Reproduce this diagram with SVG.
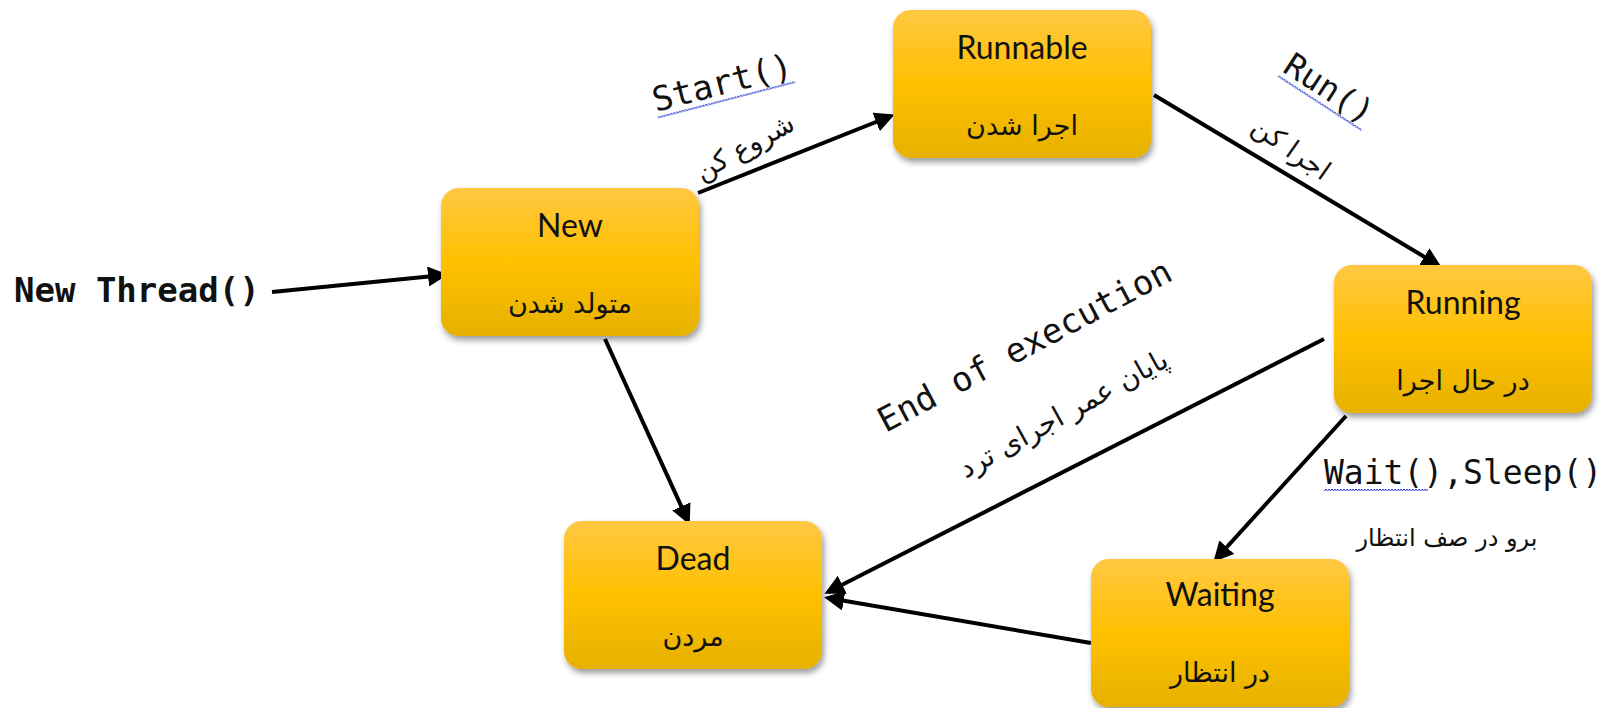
<svg xmlns="http://www.w3.org/2000/svg" width="1609" height="708" viewBox="0 0 1609 708">
<defs>
<linearGradient id="g" x1="0" y1="0" x2="0" y2="1">
<stop offset="0" stop-color="#FFC843"/>
<stop offset="0.5" stop-color="#FFC000"/>
<stop offset="1" stop-color="#E6B100"/>
</linearGradient>
<filter id="sh" x="-10%" y="-10%" width="125%" height="130%">
<feDropShadow dx="2" dy="4" stdDeviation="3" flood-color="#000" flood-opacity="0.4"/>
</filter>
<marker id="ah" viewBox="0 0 10 10" refX="8" refY="5" markerWidth="5" markerHeight="5" orient="auto" markerUnits="strokeWidth">
<path d="M0,0 L10,5 L0,10 Z" fill="#000"/>
</marker>
<pattern id="wv" width="6" height="4" patternUnits="userSpaceOnUse">
<path d="M0,1 L1.5,3 L3,1 L4.5,3 L6,1" fill="none" stroke="#2b3fd6" stroke-width="1"/>
</pattern>
<style>
.box{fill:url(#g);filter:url(#sh)}
.t{font-family:Lato,"Liberation Sans",sans-serif;font-size:32px;text-anchor:middle;fill:#111}
.fa{font-family:"DejaVu Sans",sans-serif;font-size:27px;text-anchor:middle;fill:#111}
.fa28{font-size:28px}
.fa24{font-size:24px}
.mono{font-family:"DejaVu Sans Mono","Liberation Mono",monospace;fill:#111}
.conn line{stroke:#000;stroke-width:4;marker-end:url(#ah)}
</style>
</defs>
<rect width="1609" height="708" fill="#fff"/>

<g id="connectors" class="conn">
<line x1="272" y1="292" x2="444" y2="275"/>
<line x1="698" y1="193" x2="891" y2="116"/>
<line x1="1154" y1="95" x2="1438" y2="265"/>
<line x1="1346" y1="416" x2="1216" y2="559"/>
<line x1="1324" y1="339" x2="828" y2="592"/>
<line x1="1091" y1="643" x2="828" y2="598"/>
<line x1="605" y1="339" x2="688" y2="521"/>
</g>

<g id="node-new">
<rect class="box" x="441" y="188" width="258" height="148" rx="18"/>
<text class="t" x="570" y="237">New</text>
<text class="fa" x="570" y="313">متولد شدن</text>
</g>
<g id="node-runnable">
<rect class="box" x="893" y="10" width="258" height="148" rx="18"/>
<text class="t" x="1022" y="59">Runnable</text>
<text class="fa" x="1022" y="135">اجرا شدن</text>
</g>
<g id="node-running">
<rect class="box" x="1334" y="265" width="258" height="148" rx="18"/>
<text class="t" x="1463" y="314">Running</text>
<text class="fa" x="1463" y="390">در حال اجرا</text>
</g>
<g id="node-dead">
<rect class="box" x="564" y="521" width="258" height="148" rx="18"/>
<text class="t" x="693" y="570">Dead</text>
<text class="fa" x="693" y="646">مردن</text>
</g>
<g id="node-waiting">
<rect class="box" x="1091" y="559" width="258" height="148" rx="18"/>
<text class="t" x="1220" y="606">Waiting</text>
<text class="fa" x="1220" y="682">در انتظار</text>
</g>

<g id="labels">
<text class="mono" x="14" y="302" font-size="34" font-weight="bold">New Thread()</text>
<g transform="translate(725,94) rotate(-14.5)">
<rect x="-71" y="4" width="142" height="4" fill="url(#wv)"/>
<text class="mono" x="0" y="0" font-size="34" text-anchor="middle">Start()</text>
</g>
<g transform="translate(749,155) rotate(-29)">
<text class="fa" x="0" y="0">شروع کن</text>
</g>
<g transform="translate(1323,98) rotate(33)">
<rect x="-50" y="4" width="100" height="4" fill="url(#wv)"/>
<text class="mono" x="0" y="0" font-size="33" text-anchor="middle">Run()</text>
</g>
<g transform="translate(1286,156) rotate(35)">
<text class="fa" x="0" y="0">اجرا کن</text>
</g>
<g transform="translate(1030,356) rotate(-28)">
<text class="mono" x="0" y="0" font-size="34" text-anchor="middle">End of execution</text>
</g>
<g transform="translate(1068,422) rotate(-29)">
<text class="fa fa28" x="0" y="0">پایان عمر اجرای ترد</text>
</g>
<rect x="1324" y="489" width="104" height="4" fill="url(#wv)"/>
<text class="mono" x="1324" y="484" font-size="33">Wait(),Sleep()</text>
<text class="fa fa24" x="1447" y="546">برو در صف انتظار</text>
</g>
</svg>
